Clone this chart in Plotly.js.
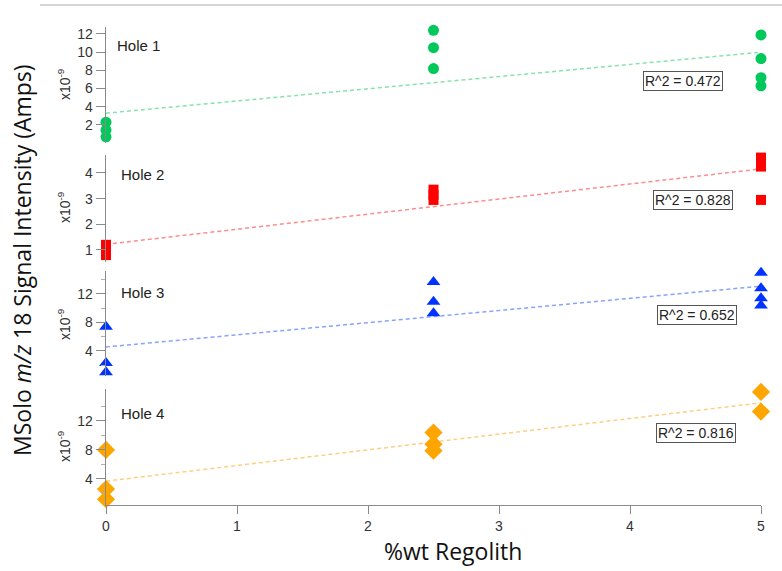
<!DOCTYPE html>
<html>
<head>
<meta charset="utf-8">
<script src="https://cdn.plot.ly/plotly-3.0.1.min.js"></script>
<style>html,body{margin:0;padding:0;background:#fff;}#chart{width:782px;height:571px;}</style>
</head>
<body>
<div id="chart"></div>
<script>
// Data (values in units of 1e-9 A)
const hole1X = [0, 0, 0, 2.5, 2.5, 2.5, 5, 5, 5, 5];
const hole1Y = [2.3, 1.45, 0.7, 12.4, 10.5, 8.2, 11.9, 9.3, 7.2, 6.3];
const hole2X = [0, 0, 0, 2.5, 2.5, 2.5, 5, 5, 5, 5];
const hole2Y = [1.2, 1.0, 0.8, 3.35, 3.15, 2.95, 4.6, 4.45, 4.25, 2.95];
const hole3X = [0, 0, 0, 2.5, 2.5, 2.5, 5, 5, 5, 5];
const hole3Y = [7.4, 2.3, 1.0, 13.7, 10.9, 9.3, 15.0, 12.8, 11.4, 10.4];
const hole4X = [0, 0, 0, 2.5, 2.5, 2.5, 5, 5];
const hole4Y = [8.0, 2.6, 1.2, 10.4, 8.8, 7.9, 16.0, 13.3];
const fitX = [0, 5];
const fit1Y = [3.3, 10.0];
const fit2Y = [1.22, 4.16];
const fit3Y = [4.56, 13.1];
const fit4Y = [3.7, 14.5];
const holeLabels = ["Hole 1", "Hole 2", "Hole 3", "Hole 4"];
const r2Labels = ["R^2 = 0.472", "R^2 = 0.828", "R^2 = 0.652", "R^2 = 0.816"];
const xTicks = [0, 1, 2, 3, 4, 5];
const y1Ticks = [2, 4, 6, 8, 10, 12];
const y2Ticks = [1, 2, 3, 4];
const y3Ticks = [4, 8, 12];
const y4Ticks = [4, 8, 12];
const minorTicks = [2, 6, 10, 14];

const tickFont = {family: "Liberation Sans, Arial, sans-serif", size: 14, color: "#333"};
const axisCol = "#8a8a8a";

function scatter(x, y, ax, color, symbol, size) {
  return {x: x, y: y, yaxis: ax, xaxis: "x", mode: "markers", type: "scatter",
    marker: {color: color, symbol: symbol, size: size, line: {width: 0}},
    cliponaxis: false, showlegend: false, hoverinfo: "x+y"};
}
function fit(y, ax, color) {
  return {x: fitX, y: y, yaxis: ax, xaxis: "x", mode: "lines", type: "scatter",
    line: {color: color, width: 1.5, dash: "4px,3px"}, showlegend: false, hoverinfo: "skip"};
}

const data = [
  fit(fit1Y, "y", "#86e3b0"),
  fit(fit2Y, "y2", "#ff8c8c"),
  fit(fit3Y, "y3", "#8aa2ff"),
  fit(fit4Y, "y4", "#ffcf80"),
  scatter(hole1X, hole1Y, "y", "#00c85a", "circle", 11),
  scatter(hole2X, hole2Y, "y2", "#ff0000", "square", 10),
  scatter(hole3X, hole3Y, "y3", "#0033ff", "triangle-up", 12),
  scatter(hole4X, hole4Y, "y4", "#ffa500", "diamond", 14)
];

function yax(domain, range, tickvals, minor) {
  const a = {domain: domain, range: range, anchor: "x", tickvals: tickvals,
    ticks: "outside", ticklen: 9, tickcolor: axisCol, tickwidth: 1,
    showline: true, linecolor: axisCol, linewidth: 1.3, showgrid: false, zeroline: false,
    tickfont: tickFont, fixedrange: true};
  if (minor) a.minor = {tickvals: minor, ticks: "outside", ticklen: 4, tickcolor: "#b0b0b0"};
  return a;
}

const annFont = {family: "Liberation Sans, Arial, sans-serif", size: 15, color: "#222"};
const r2Font = {family: "Liberation Sans, Arial, sans-serif", size: 14, color: "#222"};
// pixel helpers: plot area x 106..761, y 20..505
function px(p) { return (p - 106) / 655; }
function py(p) { return (505 - p) / 485; }

const annotations = [];
const holePos = [[115, 45], [119, 174], [119, 292], [119, 413]];
const r2Pos = [[683, 81], [693, 200], [697, 315], [696, 433]];
const expPos = [85, 208, 325, 447];
for (let i = 0; i < 4; i++) {
  annotations.push({xref: "paper", yref: "paper", x: px(holePos[i][0]), y: py(holePos[i][1]),
    xanchor: "left", yanchor: "middle", text: holeLabels[i], showarrow: false, font: annFont});
  annotations.push({xref: "paper", yref: "paper", x: px(r2Pos[i][0]), y: py(r2Pos[i][1]),
    xanchor: "center", yanchor: "middle", text: r2Labels[i], showarrow: false, font: r2Font,
    bordercolor: "#555", borderwidth: 1, borderpad: 1, bgcolor: "#fff"});
  annotations.push({xref: "paper", yref: "paper", x: px(64), y: py(expPos[i]),
    xanchor: "center", yanchor: "middle", text: "x10<sup>-9</sup>", textangle: -90,
    showarrow: false, font: {family: "Liberation Sans, Arial, sans-serif", size: 14, color: "#333"}});
}
annotations.push({xref: "paper", yref: "paper", x: px(22), y: py(260), xanchor: "center", yanchor: "middle",
  text: "MSolo <i>m/z</i> 18 Signal Intensity (Amps)", textangle: -90, showarrow: false,
  font: {family: "Open Sans, sans-serif", size: 23, color: "#111"}});
annotations.push({xref: "paper", yref: "paper", x: px(453), y: py(551), xanchor: "center", yanchor: "middle",
  text: "%wt Regolith", showarrow: false,
  font: {family: "Open Sans, sans-serif", size: 23, color: "#111"}});

const layout = {
  width: 782, height: 571,
  margin: {l: 106, r: 21, t: 20, b: 66},
  paper_bgcolor: "#fff", plot_bgcolor: "#fff",
  showlegend: false,
  xaxis: {range: [0, 5], anchor: "y4", tickvals: xTicks, ticks: "outside", ticklen: 8,
    tickcolor: axisCol, showline: true, linecolor: axisCol, linewidth: 1.3,
    showgrid: false, zeroline: false, tickfont: tickFont, fixedrange: true},
  yaxis: yax([0.7464, 0.9856], [0.02, 12.77], y1Ticks, null),
  yaxis2: yax([0.501, 0.7216], [0.53, 4.70], y2Ticks, null),
  yaxis3: yax([0.266, 0.4825], [0.49, 15.23], y3Ticks, minorTicks),
  yaxis4: yax([0, 0.2392], [0.41, 16.41], y4Ticks, minorTicks),
  annotations: annotations,
  shapes: [{type: "line", xref: "paper", yref: "paper", x0: px(40), x1: px(782), y0: py(5), y1: py(5),
    line: {color: "#c8c8c8", width: 1.5}}]
};

Plotly.newPlot("chart", data, layout, {displayModeBar: false, staticPlot: true});
</script>
</body>
</html>
